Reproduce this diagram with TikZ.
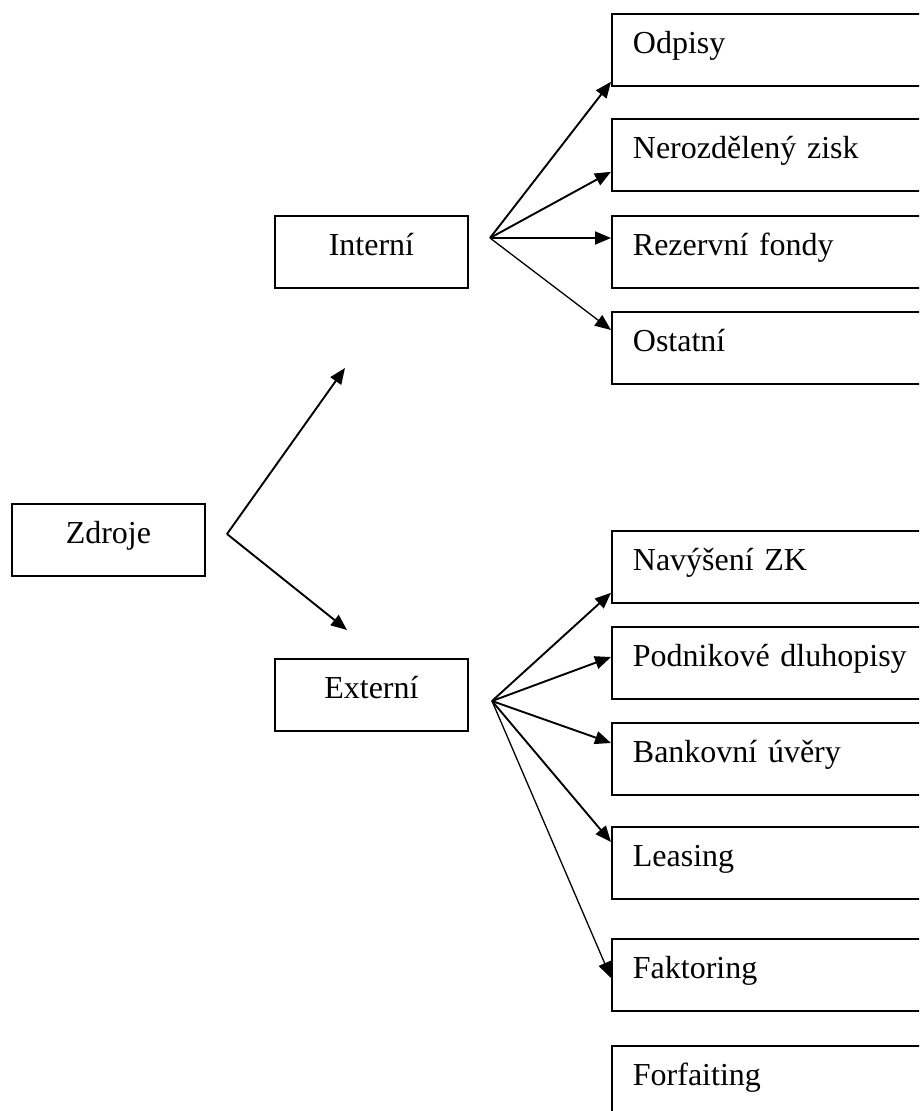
\documentclass[tikz,border=0pt]{standalone}
\usepackage{fontspec}
\setmainfont{Liberation Serif}
\usetikzlibrary{positioning,calc,arrows.meta}

\begin{document}
\begin{tikzpicture}[x=0.5pt,y=-0.5pt,
  font=\fontsize{16}{19}\selectfont,
  box/.style={draw,line width=0.9pt,minimum width=96.5pt,inner xsep=0pt,inner ysep=4.5pt,
    text height=15.5pt,text depth=11.5pt,anchor=north west},
  item/.style={box,text width=150pt,inner xsep=10.5pt,align=left},
  link/.style={-{Triangle[length=8pt,width=6.5pt]},line width=0.95pt},
  thinlink/.style={link,line width=0.65pt}]
  \useasboundingbox (0,0) rectangle (919,1111);
  \clip (0,0) rectangle (919,1111);

  % left column
  \node[box] (zdroje) at (11,503) {Zdroje};
  \node[box] (interni) at (274,215) {Interní};
  \node[box] (externi) at (274,658) {Externí};

  % internal sources
  \node[item] (odpisy) at (611,13) {Odpisy};
  \node[item] (zisk) at (611,118) {Nerozdělený zisk};
  \node[item] (fondy) at (611,215) {Rezervní fondy};
  \node[item] (ostatni) at (611,311) {Ostatní};

  % external sources
  \node[item] (zk) at (611,530) {Navýšení ZK};
  \node[item] (dluhopisy) at (611,626) {Podnikové dluhopisy};
  \node[item] (uvery) at (611,722) {Bankovní úvěry};
  \node[item] (leasing) at (611,826) {Leasing};
  \node[item] (faktoring) at (611,938) {Faktoring};
  \node[item] (forfaiting) at (611,1045) {Forfaiting};

  \coordinate (zo) at (227,534);
  \coordinate (zi) at (345,368);
  \coordinate (ze) at (347,630);
  \coordinate (io) at (490,238);
  \coordinate (eo) at (492,701);

  \draw[link] (zo) -- (zi);
  \draw[link] (zo) -- (ze);

  \draw[link] (io) -- ($(odpisy.south west)+(0,-5)$);
  \draw[link] (io) -- ($(zisk.south west)+(0,-20)$);
  \draw[link] (io) -- ($(fondy.north west)+(0,23)$);
  \draw[thinlink] (io) -- ($(ostatni.north west)+(0,19)$);

  \draw[link] (eo) -- ($(zk.south west)+(0,-11)$);
  \draw[link] (eo) -- ($(dluhopisy.north west)+(0,31)$);
  \draw[link] (eo) -- ($(uvery.north west)+(0,21)$);
  \draw[link] (eo) -- ($(leasing.north west)+(0,16)$);
  \draw[thinlink] (eo) -- ($(faktoring.north west)+(0,40)$);
\end{tikzpicture}
\end{document}
